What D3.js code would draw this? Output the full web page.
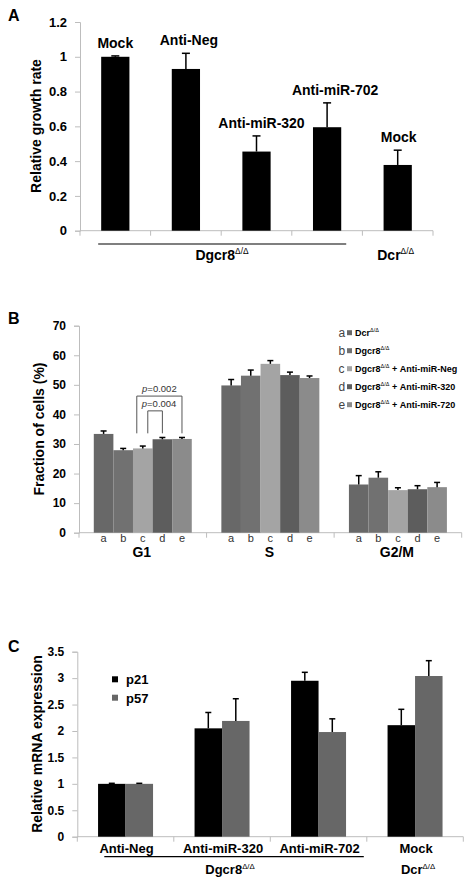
<!DOCTYPE html>
<html><head><meta charset="utf-8">
<script src="https://cdn.jsdelivr.net/npm/d3@7"></script>
<style>
body{margin:0;background:#fff;}
text{font-family:Arial,"Liberation Sans",sans-serif;}
</style></head>
<body><svg id="chart" width="473" height="890"></svg>
<script>
// ---------- Panel A data ----------
const growthIds = ["mockD","neg","m320","m702","mockDcr"];
const growthLabels = ["Mock","Anti-Neg","Anti-miR-320","Anti-miR-702","Mock"];
const growthValues = [1.0, 0.93, 0.455, 0.595, 0.378];
const growthErrors = [0.005, 0.09, 0.09, 0.14, 0.085];
const growthTicks = [0, 0.2, 0.4, 0.6, 0.8, 1, 1.2];

// ---------- Panel B data ----------
const phases = ["G1", "S", "G2/M"];
const conditions = ["a", "b", "c", "d", "e"];
const conditionNames = ["Dcr", "Dgcr8", "Dgcr8", "Dgcr8", "Dgcr8"];
const conditionSuffix = ["", "", " + Anti-miR-Neg", " + Anti-miR-320", " + Anti-miR-720"];
const conditionColors = ["#686868", "#717171", "#a4a4a4", "#5d5d5d", "#8b8b8b"];
const fracG1 = [33.4, 27.9, 28.5, 31.6, 31.7];
const errG1 = [1.0, 0.6, 0.8, 0.6, 0.5];
const fracS = [49.8, 53.1, 57.1, 53.3, 52.3];
const errS = [2.0, 1.9, 1.1, 1.0, 0.7];
const fracG2M = [16.3, 18.6, 14.4, 14.7, 15.4];
const errG2M = [3.0, 2.0, 0.8, 1.2, 1.6];
const fracTicks = [0, 10, 20, 30, 40, 50, 60, 70];

// ---------- Panel C data ----------
const genes = ["p21", "p57"];
const geneColors = ["#000000", "#676767"];
const treatmentsC = ["Anti-Neg", "Anti-miR-320", "Anti-miR-702", "Mock"];
const p21Values = [1.0, 2.05, 2.95, 2.11];
const p21Errors = [0.01, 0.30, 0.16, 0.30];
const p57Values = [1.0, 2.19, 1.98, 3.04];
const p57Errors = [0.01, 0.42, 0.25, 0.29];
const exprTicks = [0, 0.5, 1, 1.5, 2, 2.5, 3, 3.5];

const svg = d3.select("#chart");
const AXIS = "#bdbdbd";

function styleAxis(g){
  g.select(".domain").attr("stroke", AXIS);
  g.selectAll(".tick line").attr("stroke", AXIS);
  g.selectAll(".tick text").attr("fill", "#000").attr("font-weight", "bold");
}
function superLabel(g, x, y, base, size, anchor){
  const t = g.append("text").attr("x", x).attr("y", y).attr("text-anchor", anchor || "middle")
    .attr("font-weight", "bold").attr("font-size", size);
  t.append("tspan").text(base);
  t.append("tspan").attr("font-size", size * 0.6).attr("dy", -size * 0.4).attr("font-weight", "normal").text("\u0394/\u0394");
  return t;
}
function panelLetter(txt, y){
  svg.append("text").attr("x", 8).attr("y", y).attr("font-size", 16).attr("font-weight", "bold").text(txt);
}
function yTitle(txt, x, yc){
  svg.append("text").attr("transform", `translate(${x},${yc}) rotate(-90)`)
    .attr("text-anchor", "middle").attr("font-size", 14).attr("font-weight", "bold").text(txt);
}
function errorBar(g, x, yTop, yBar, cap){
  g.append("line").attr("x1", x).attr("x2", x).attr("y1", yBar).attr("y2", yTop).attr("stroke", "#000").attr("stroke-width", 1.5);
  g.append("line").attr("x1", x - cap).attr("x2", x + cap).attr("y1", yTop).attr("y2", yTop).attr("stroke", "#000").attr("stroke-width", 1.5);
}
function bottomTicks(g, scale, y){
  const pos = scale.domain().map(d => scale(d)).concat([scale.range()[1]]);
  g.append("line").attr("x1", scale.range()[0]).attr("x2", scale.range()[1]).attr("y1", y).attr("y2", y).attr("stroke", AXIS);
  g.selectAll(null).data(pos).join("line").attr("x1", d => d).attr("x2", d => d)
    .attr("y1", y).attr("y2", y + 5).attr("stroke", AXIS);
}

// =================== PANEL A ===================
{
  const g = svg.append("g");
  const y = d3.scaleLinear().domain([0, 1.2]).range([230.7, 22]);
  const x = d3.scaleBand().domain(growthIds).range([80, 433]).paddingInner(0.6).paddingOuter(0.3);
  const xb = d3.scaleBand().domain(growthIds).range([80, 433]).padding(0);
  g.append("g").attr("transform", "translate(80,0)")
    .call(d3.axisLeft(y).tickValues(growthTicks).tickSize(5).tickPadding(8).tickFormat(d => d3.format("")(+d.toFixed(1))))
    .call(styleAxis).call(a => a.selectAll(".tick text").attr("font-size", 13));
  bottomTicks(g, xb, 230.7);
  const labelShift = [0, 3, 5, 8, 1];
  growthIds.forEach((id, i) => {
    const bx = x(id), bw = x.bandwidth(), cx = bx + bw / 2;
    g.append("rect").attr("x", bx).attr("y", y(growthValues[i])).attr("width", bw)
      .attr("height", y(0) - y(growthValues[i])).attr("fill", "#000");
    errorBar(g, cx, y(growthValues[i] + growthErrors[i]), y(growthValues[i]), 4);
    g.append("text").attr("x", cx + labelShift[i]).attr("y", y(growthValues[i] + growthErrors[i]) - 8)
      .attr("text-anchor", "middle").attr("font-size", 14).attr("font-weight", "bold").text(growthLabels[i]);
  });
  g.append("line").attr("x1", x(growthIds[0]) - 3).attr("x2", x(growthIds[3]) + x.bandwidth() + 5)
    .attr("y1", 244).attr("y2", 244).attr("stroke", "#000").attr("stroke-width", 1.2);
  superLabel(g, 222, 260, "Dgcr8", 14);
  superLabel(g, x(growthIds[4]) + x.bandwidth() / 2 - 2, 260, "Dcr", 14);
  panelLetter("A", 21);
  yTitle("Relative growth rate", 41, 126);
}

// =================== PANEL B ===================
{
  const g = svg.append("g");
  const y = d3.scaleLinear().domain([0, 70]).range([532.7, 325.7]);
  const xg = d3.scaleBand().domain(phases).range([79, 461.7]).padding(0);
  const xs = d3.scaleBand().domain(conditions).range([0, xg.bandwidth()]).paddingInner(0).paddingOuter(0.755);
  g.append("g").attr("transform", "translate(79,0)")
    .call(d3.axisLeft(y).tickValues(fracTicks).tickSize(5).tickPadding(8))
    .call(styleAxis).call(a => a.selectAll(".tick text").attr("font-size", 12));
  bottomTicks(g, xg, 532.7);
  const vals = [fracG1, fracS, fracG2M], errs = [errG1, errS, errG2M];
  phases.forEach((p, pi) => {
    conditions.forEach((c, ci) => {
      const bx = xg(p) + xs(c), bw = xs.bandwidth(), cx = bx + bw / 2, v = vals[pi][ci];
      g.append("rect").attr("x", bx).attr("y", y(v)).attr("width", bw).attr("height", y(0) - y(v)).attr("fill", conditionColors[ci]);
      errorBar(g, cx, y(v + errs[pi][ci]), y(v), 3);
      g.append("text").attr("x", cx).attr("y", 542).attr("text-anchor", "middle").attr("font-size", 11).attr("fill", "#333").text(c);
    });
    g.append("text").attr("x", xg(p) + xg.bandwidth() / 2 - 1).attr("y", 557).attr("text-anchor", "middle")
      .attr("font-size", 14).attr("font-weight", "bold").text(p);
  });
  // significance brackets
  const cxOf = c => xg("G1") + xs(c) + xs.bandwidth() / 2;
  const legBottom = y(33.6);
  const br = [
    {x1: cxOf("c") - 6, x2: cxOf("e"), top: y(46.2), label: "0.002"},
    {x1: cxOf("c") + 5, x2: cxOf("d"), top: y(41.2), label: "0.004"}
  ];
  br.forEach(b => {
    g.append("path").attr("d", `M${b.x1},${legBottom}V${b.top}H${b.x2}V${legBottom}`)
      .attr("fill", "none").attr("stroke", "#555").attr("stroke-width", 1);
    const t = g.append("text").attr("x", (b.x1 + b.x2) / 2 + (b.label === "0.004" ? 4 : 0)).attr("y", b.top - 4)
      .attr("text-anchor", "middle").attr("font-size", 9.5).attr("fill", "#333");
    t.append("tspan").attr("font-style", "italic").text("p");
    t.append("tspan").text("=" + b.label);
  });
  // legend
  conditions.forEach((c, i) => {
    const yy = 332.7 + i * 18;
    g.append("text").attr("x", 338.5).attr("y", yy + 4).attr("font-size", 12).attr("fill", "#444").text(c);
    g.append("rect").attr("x", 347).attr("y", yy - 2.5).attr("width", 5).attr("height", 5).attr("fill", conditionColors[i]);
    const t = g.append("text").attr("x", 355).attr("y", yy + 3.5).attr("font-size", 9).attr("font-weight", "bold");
    t.append("tspan").text(conditionNames[i]);
    t.append("tspan").attr("font-size", 5.5).attr("dy", -4).attr("font-weight", "normal").text("\u0394/\u0394");
    t.append("tspan").attr("dy", 4).text(conditionSuffix[i]);
  });
  panelLetter("B", 324);
  yTitle("Fraction of cells (%)", 44, 429);
}

// =================== PANEL C ===================
{
  const g = svg.append("g");
  const y = d3.scaleLinear().domain([0, 3.5]).range([836.7, 651.7]);
  const xg = d3.scaleBand().domain(treatmentsC).range([77.3, 463.3]).padding(0);
  const xs = d3.scaleBand().domain(genes).range([0, xg.bandwidth()]).paddingInner(0).paddingOuter(0.755);
  g.append("g").attr("transform", "translate(77.3,0)")
    .call(d3.axisLeft(y).tickValues(exprTicks).tickSize(5).tickPadding(8).tickFormat(d => String(d)))
    .call(styleAxis).call(a => a.selectAll(".tick text").attr("font-size", 12));
  bottomTicks(g, xg, 836.7);
  const vals = [p21Values, p57Values], errs = [p21Errors, p57Errors];
  treatmentsC.forEach((t, ti) => {
    genes.forEach((gn, gi) => {
      const bx = xg(t) + xs(gn), bw = xs.bandwidth(), cx = bx + bw / 2, v = vals[gi][ti];
      g.append("rect").attr("x", bx).attr("y", y(v)).attr("width", bw).attr("height", y(0) - y(v)).attr("fill", geneColors[gi]);
      errorBar(g, cx, y(v + errs[gi][ti]), y(v), 3);
    });
    g.append("text").attr("x", xg(t) + xg.bandwidth() / 2 + 1).attr("y", 853).attr("text-anchor", "middle")
      .attr("font-size", 13).attr("font-weight", "bold").text(t);
  });
  g.append("line").attr("x1", xg(treatmentsC[0]) + 27).attr("x2", xg(treatmentsC[2]) + xg.bandwidth() - 3)
    .attr("y1", 856.7).attr("y2", 856.7).attr("stroke", "#000").attr("stroke-width", 1.2);
  superLabel(g, 230, 874, "Dgcr8", 13);
  superLabel(g, xg(treatmentsC[3]) + xg.bandwidth() / 2 + 3, 874, "Dcr", 13);
  // legend
  genes.forEach((gn, i) => {
    const yy = 679.3 + i * 18.4;
    g.append("rect").attr("x", 112).attr("y", yy - 3).attr("width", 6).attr("height", 6).attr("fill", geneColors[i]);
    g.append("text").attr("x", 126).attr("y", yy + 5).attr("font-size", 13).attr("font-weight", "bold").text(gn);
  });
  panelLetter("C", 652);
  yTitle("Relative mRNA expression", 42, 744);
}
</script></body></html>
